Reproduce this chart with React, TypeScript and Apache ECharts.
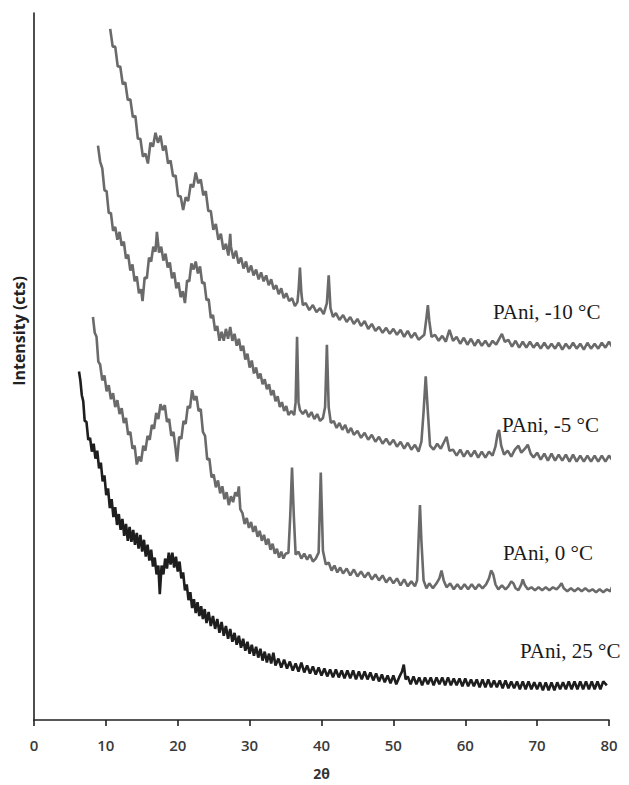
import React, { useEffect, useRef } from "react";
import * as echarts from "echarts";

// 2θ (degrees) vs. intensity (arbitrary, stacked offsets as in the figure)
const CURVE_M10: number[][] = [
  [10.6,707],[10.95,689],[11.3,689],[11.65,669],[12.0,669],[12.35,651],[12.7,653],[13.05,635],[13.4,636],[13.75,618],
  [14.1,619],[14.45,596],[14.8,596],[15.15,578],[15.5,581],[15.85,571],[16.2,592],[16.55,588],[16.9,602],[17.25,592],
  [17.6,599],[17.95,584],[18.3,589],[18.65,571],[19.0,574],[19.35,558],[19.7,559],[20.05,538],[20.4,538],[20.75,524],
  [21.1,537],[21.45,533],[21.8,550],[22.15,547],[22.5,562],[22.85,551],[23.2,555],[23.55,539],[23.9,543],[24.25,523],
  [24.6,523],[24.95,504],[25.3,510],[25.65,494],[26.0,500],[26.35,484],[26.7,490],[27.05,478],[27.3,500],[27.4,487],
  [27.75,475],[28.1,483],[28.45,470],[28.8,476],[29.15,465],[29.5,472],[29.85,461],[30.2,468],[30.55,458],[30.9,464],
  [31.25,454],[31.6,461],[31.95,452],[32.3,458],[32.65,448],[33.0,454],[33.35,444],[33.7,448],[34.05,439],[34.4,445],
  [34.75,435],[35.1,440],[35.5,432],[35.9,435],[36.3,427],[36.65,431],[36.8,442],[37.0,466],[37.2,440],[37.4,428],
  [37.8,430],[38.3,423],[38.8,428],[39.3,421],[39.8,425],[40.3,419],[40.75,430],[41.0,458],[41.25,425],[41.6,416],
  [42.0,420],[42.5,413],[43.0,418],[43.5,411],[44.0,416],[44.5,409],[45.0,414],[45.5,407],[46.0,412],[46.5,404],
  [47.0,409],[47.5,402],[48.0,406],[48.5,400],[49.0,405],[49.5,399],[50.0,404],[50.5,398],[51.0,403],[51.5,396],
  [52.0,402],[52.5,395],[53.0,400],[53.5,393],[54.3,398],[54.6,415],[54.8,428],[55.0,412],[55.3,396],[55.8,398],
  [56.3,392],[56.8,397],[57.3,391],[57.8,403],[58.3,392],[58.8,396],[59.3,389],[59.8,395],[60.3,388],[60.8,394],
  [61.3,387],[61.8,393],[62.3,387],[62.8,392],[63.3,386],[63.8,392],[64.3,388],[64.8,395],[65.1,399],[65.5,391],
  [66.0,393],[66.5,386],[67.0,392],[67.5,385],[68.0,391],[68.5,385],[69.0,391],[69.5,385],[70.0,390],[70.5,384],
  [71.0,390],[71.5,384],[72.0,389],[72.5,384],[73.0,390],[73.5,383],[74.0,389],[74.5,384],[75.0,390],[75.5,384],
  [76.0,389],[76.5,383],[77.0,390],[77.5,384],[78.0,389],[78.5,384],[79.0,390],[79.5,385],[80.0,391],[80.5,385],
  [81.0,390],[81.5,385],[82.0,391],[82.5,387],
];

const CURVE_M5: number[][] = [
  [8.9,589],[9.2,573],[9.5,566],[9.8,544],[10.1,543],[10.4,521],[10.7,521],[11.0,503],[11.3,507],[11.6,494],
  [11.9,502],[12.2,488],[12.5,492],[12.8,475],[13.1,479],[13.4,463],[13.7,469],[14.0,452],[14.3,457],[14.6,440],
  [14.9,444],[15.1,432],[15.4,456],[15.7,455],[16.0,476],[16.3,472],[16.6,487],[16.9,482],[17.1,502],[17.4,481],
  [17.7,487],[18.0,473],[18.3,480],[18.6,466],[18.9,471],[19.2,455],[19.5,461],[19.8,445],[20.1,451],[20.4,436],
  [20.7,442],[21.0,430],[21.3,453],[21.6,452],[21.9,470],[22.2,464],[22.5,472],[22.8,460],[23.1,467],[23.4,450],
  [23.7,451],[24.0,433],[24.3,434],[24.6,415],[24.9,418],[25.2,402],[25.5,407],[25.8,392],[26.1,401],[26.4,392],
  [26.7,404],[27.0,394],[27.3,406],[27.6,392],[27.9,399],[28.2,387],[28.5,394],[28.8,382],[29.1,387],[29.4,373],
  [29.7,379],[30.0,365],[30.3,372],[30.6,359],[30.9,365],[31.2,354],[31.5,359],[31.8,348],[32.1,353],[32.4,343],
  [32.7,348],[33.0,337],[33.3,342],[33.6,331],[33.9,336],[34.2,325],[34.5,330],[34.8,321],[35.1,326],[35.4,317],
  [35.8,321],[36.2,317],[36.4,330],[36.6,396],[36.8,330],[37.0,322],[37.4,318],[37.8,322],[38.2,315],[38.6,320],
  [39.0,313],[39.4,318],[39.8,311],[40.2,314],[40.5,325],[40.75,388],[41.0,325],[41.3,309],[41.7,311],[42.1,304],
  [42.5,309],[42.9,302],[43.3,307],[43.7,299],[44.1,304],[44.5,297],[45.0,301],[45.5,294],[46.0,299],[46.5,292],
  [47.0,297],[47.5,290],[48.0,295],[48.5,288],[49.0,293],[49.5,287],[50.0,292],[50.5,285],[51.0,290],[51.5,283],
  [52.0,289],[52.5,282],[53.0,287],[53.5,280],[53.9,290],[54.2,320],[54.5,356],[54.8,320],[55.1,286],[55.6,282],
  [56.1,288],[56.6,283],[57.0,289],[57.4,295],[57.8,281],[58.3,282],[58.8,276],[59.3,282],[59.8,275],[60.3,281],
  [60.8,275],[61.3,281],[61.8,274],[62.3,280],[62.8,274],[63.3,280],[63.8,276],[64.2,285],[64.5,298],[64.7,302],
  [65.0,286],[65.4,277],[65.9,281],[66.4,275],[66.9,282],[67.4,286],[67.8,279],[68.3,283],[68.7,287],[69.1,278],
  [69.5,274],[70.0,279],[70.5,272],[71.0,278],[71.5,271],[72.0,278],[72.5,271],[73.0,277],[73.5,271],[74.0,277],
  [74.5,270],[75.0,277],[75.5,270],[76.0,276],[76.5,270],[77.0,276],[77.5,270],[78.0,276],[78.5,270],[79.0,276],
  [79.5,270],[80.0,276],[80.5,271],[81.0,280],[81.4,285],[81.8,276],[82.2,272],[82.5,275],
];

const CURVE_0: number[][] = [
  [8.2,416],[8.45,400],[8.7,396],[8.95,371],[9.2,368],[9.5,352],[9.8,357],[10.1,341],[10.4,347],[10.7,333],
  [11.0,339],[11.3,325],[11.6,332],[11.9,318],[12.2,324],[12.5,309],[12.8,314],[13.1,297],[13.4,300],[13.7,283],
  [14.0,286],[14.3,267],[14.6,275],[14.9,270],[15.2,286],[15.5,281],[15.8,296],[16.1,292],[16.4,307],[16.7,303],
  [17.0,319],[17.3,313],[17.6,328],[17.9,322],[18.2,327],[18.5,310],[18.8,313],[19.1,296],[19.4,300],[19.7,283],
  [19.9,270],[20.2,295],[20.5,293],[20.8,311],[21.1,308],[21.4,326],[21.7,324],[22.0,342],[22.3,332],[22.6,336],
  [22.9,321],[23.2,323],[23.5,300],[23.8,296],[24.1,272],[24.4,273],[24.7,254],[25.0,257],[25.3,244],[25.6,251],
  [25.9,238],[26.2,245],[26.5,232],[26.8,239],[27.1,226],[27.4,235],[27.7,229],[28.0,239],[28.3,235],[28.5,245],
  [28.7,222],[29.0,218],[29.3,207],[29.6,213],[29.9,203],[30.2,209],[30.5,199],[30.8,205],[31.1,194],[31.4,200],
  [31.7,190],[32.0,196],[32.3,186],[32.6,192],[32.9,181],[33.2,187],[33.5,177],[33.8,182],[34.1,173],[34.4,179],
  [34.7,172],[35.0,177],[35.4,178],[35.65,215],[35.9,264],[36.15,215],[36.4,176],[36.8,179],[37.2,172],[37.6,177],
  [38.0,171],[38.4,176],[38.8,169],[39.2,172],[39.6,178],[39.9,259],[40.2,180],[40.6,166],[41.0,168],[41.4,160],
  [41.8,165],[42.2,158],[42.6,163],[43.0,157],[43.5,162],[44.0,155],[44.5,161],[45.0,154],[45.5,159],[46.0,153],
  [46.5,158],[47.0,151],[47.5,156],[48.0,150],[48.5,155],[49.0,148],[49.5,153],[50.0,147],[50.5,152],[51.0,145],
  [51.5,151],[52.0,144],[52.5,149],[53.0,144],[53.3,150],[53.5,190],[53.7,226],[53.9,190],[54.2,150],[54.6,142],
  [55.0,147],[55.5,142],[56.0,147],[56.4,152],[56.7,160],[57.0,150],[57.4,143],[57.9,147],[58.4,141],[58.9,146],
  [59.4,141],[59.9,146],[60.4,141],[60.9,146],[61.4,141],[61.9,146],[62.4,142],[62.9,146],[63.3,152],[63.6,160],
  [63.9,156],[64.2,146],[64.6,141],[65.1,145],[65.6,141],[66.0,144],[66.4,149],[66.7,147],[67.0,142],[67.4,140],
  [67.8,146],[68.0,151],[68.3,145],[68.7,141],[69.2,143],[69.7,140],[70.2,143],[70.7,140],[71.2,143],[71.7,140],
  [72.2,143],[72.7,141],[73.1,144],[73.4,147],[73.7,142],[74.2,139],[74.7,142],[75.2,139],[75.7,142],[76.2,139],
  [76.7,142],[77.2,139],[77.7,141],[78.2,138],[78.7,141],[79.2,138],[79.7,141],[80.2,139],[80.5,145],[80.8,153],
  [81.1,145],[81.4,139],[81.8,140],
];

const CURVE_25: number[][] = [
  [6.26,361],[6.45,352],[6.65,337],[6.85,331],[7.05,311],[7.3,310],[7.55,292],[7.8,294],[8.05,280],[8.3,288],
  [8.55,273],[8.8,281],[9.05,263],[9.3,269],[9.55,250],[9.8,256],[10.05,236],[10.3,243],[10.55,223],[10.8,232],
  [11.05,214],[11.3,224],[11.55,206],[11.8,217],[12.05,201],[12.3,212],[12.55,195],[12.8,207],[13.05,190],[13.3,204],
  [13.55,189],[13.8,201],[14.05,186],[14.3,198],[14.55,182],[14.8,196],[15.05,179],[15.3,191],[15.55,174],[15.8,186],
  [16.05,170],[16.3,181],[16.55,164],[16.8,173],[17.05,156],[17.3,165],[17.5,136],[17.75,165],[18.0,156],[18.25,172],
  [18.5,162],[18.75,178],[19.0,166],[19.25,178],[19.5,163],[19.75,174],[20.0,159],[20.25,169],[20.5,152],[20.75,158],
  [21.0,140],[21.25,146],[21.5,130],[21.75,138],[22.0,122],[22.25,131],[22.5,117],[22.75,128],[23.0,114],[23.25,124],
  [23.5,111],[23.75,121],[24.0,107],[24.3,118],[24.6,104],[24.9,114],[25.2,101],[25.5,111],[25.8,97],[26.1,108],
  [26.4,94],[26.7,104],[27.0,91],[27.3,101],[27.6,88],[27.9,97],[28.2,85],[28.5,94],[28.8,82],[29.1,91],
  [29.4,79],[29.7,88],[30.0,76],[30.3,85],[30.6,74],[30.9,83],[31.2,72],[31.5,81],[31.8,69],[32.1,78],
  [32.4,67],[32.7,76],[33.0,66],[33.3,77],[33.6,64],[34.0,71],[34.4,62],[34.8,70],[35.2,61],[35.6,68],
  [36.0,59],[36.4,66],[36.8,58],[37.2,67],[37.6,57],[38.0,64],[38.4,56],[38.8,63],[39.2,55],[39.6,62],
  [40.0,54],[40.4,61],[40.8,53],[41.2,60],[41.6,52],[42.0,60],[42.4,52],[42.8,59],[43.2,51],[43.6,59],
  [44.0,51],[44.4,59],[44.8,50],[45.2,58],[45.6,50],[46.0,58],[46.4,50],[46.8,57],[47.2,49],[47.6,56],
  [48.0,48],[48.4,55],[48.8,47],[49.2,54],[49.6,46],[50.0,54],[50.4,45],[50.8,52],[51.2,58],[51.45,65],
  [51.7,50],[52.0,53],[52.4,45],[52.8,53],[53.2,45],[53.6,52],[54.0,44],[54.4,52],[54.8,45],[55.2,52],
  [55.6,44],[56.0,52],[56.4,45],[56.8,52],[57.2,44],[57.6,52],[58.0,44],[58.4,51],[58.8,44],[59.2,51],
  [59.6,43],[60.0,51],[60.4,43],[60.8,50],[61.2,43],[61.6,50],[62.0,42],[62.4,50],[62.8,42],[63.2,50],
  [63.6,42],[64.0,49],[64.4,42],[64.8,49],[65.2,41],[65.6,49],[66.0,41],[66.4,48],[66.8,41],[67.2,48],
  [67.6,40],[68.0,48],[68.4,40],[68.8,48],[69.2,40],[69.6,47],[70.0,40],[70.4,47],[70.8,39],[71.2,47],
  [71.6,39],[72.0,47],[72.4,39],[72.8,47],[73.2,40],[73.6,47],[74.0,40],[74.4,48],[74.8,40],[75.2,48],
  [75.6,40],[76.0,48],[76.4,40],[76.8,48],[77.2,40],[77.6,48],[78.0,40],[78.4,48],[78.8,40],[79.2,48],
  [79.7,44],
];

const SERIES_NAMES = ["PAni, -10 °C", "PAni, -5 °C", "PAni, 0 °C", "PAni, 25 °C"];
const SERIES_DATA = [CURVE_M10, CURVE_M5, CURVE_0, CURVE_25];
const SERIES_COLORS = ["#6a6a6a", "#6a6a6a", "#6a6a6a", "#1e1e1e"];
const LABEL_POS = [
  [493, 312],
  [502, 425],
  [503, 553],
  [520, 651],
];
const X_TICKS = { min: 0, max: 80, interval: 10 };

export default function App() {
  const ref = useRef<HTMLDivElement>(null);
  useEffect(() => {
    document.body.style.margin = "0";
    if (!ref.current) return;
    const chart = echarts.init(ref.current, null, { renderer: "svg" });
    const option: any = {
      animation: false,
      backgroundColor: "#ffffff",
      grid: { left: 34, right: 20, top: 13, bottom: 58, containLabel: false },
      xAxis: {
        type: "value",
        min: X_TICKS.min,
        max: X_TICKS.max,
        interval: X_TICKS.interval,
        name: "2θ",
        nameLocation: "middle",
        nameGap: 46,
        nameTextStyle: { fontFamily: "Open Sans", fontWeight: "bold", fontSize: 14, color: "#333" },
        axisLine: { show: true, lineStyle: { color: "#222", width: 1.6 } },
        axisTick: { show: true, inside: false, length: 6, lineStyle: { color: "#222", width: 1.6 } },
        axisLabel: { fontFamily: "Open Sans", fontSize: 15, color: "#3a3a3a", margin: 17, fontWeight: 600 },
        splitLine: { show: false },
      },
      yAxis: {
        type: "value",
        min: 9,
        max: 723,
        axisLine: { show: true, onZero: false, lineStyle: { color: "#222", width: 1.6 } },
        axisTick: { show: false },
        axisLabel: { show: false },
        splitLine: { show: false },
      },
      series: SERIES_DATA.map((d, i) => ({
        type: "line",
        name: SERIES_NAMES[i],
        data: d,
        showSymbol: false,
        clip: false,
        lineStyle: { color: SERIES_COLORS[i], width: 2.6 },
        z: 2,
      })),
      graphic: [
        {
          type: "text",
          x: 19,
          y: 331,
          rotation: Math.PI / 2,
          style: {
            text: "Intensity (cts)",
            font: 'bold 16px "Open Sans"',
            fill: "#222",
            align: "center",
            verticalAlign: "middle",
          },
        },
        ...SERIES_NAMES.map((n, i) => ({
          type: "text",
          x: LABEL_POS[i][0],
          y: LABEL_POS[i][1],
          style: {
            text: n,
            font: '21px "Liberation Serif"',
            fill: "#1a1a1a",
            align: "left",
            verticalAlign: "middle",
          },
        })),
      ],
    };
    chart.setOption(option);
    return () => chart.dispose();
  }, []);
  return <div ref={ref} style={{ width: 629, height: 785 }} />;
}
